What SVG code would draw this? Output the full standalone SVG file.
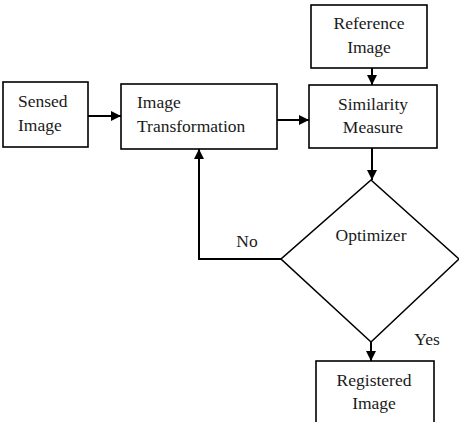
<svg xmlns="http://www.w3.org/2000/svg" width="459" height="422" viewBox="0 0 459 422">
<defs>
<style>
.box{fill:#fff;stroke:#000;stroke-width:1.6}
.t{font-family:"Liberation Serif","Times New Roman",serif;font-size:17.5px;fill:#1a1a1a}
.c{text-anchor:middle}
.ln{fill:none;stroke:#000;stroke-width:2}
</style>
<marker id="ah" markerWidth="10" markerHeight="10" refX="10" refY="5" orient="auto" markerUnits="userSpaceOnUse">
<path d="M0,0 L10,5 L0,10 Z" fill="#000"/>
</marker>
</defs>
<rect width="459" height="422" fill="#fff"/>
<g id="connectors">
<line class="ln" x1="88" y1="116" x2="121" y2="116" marker-end="url(#ah)"/>
<line class="ln" x1="277" y1="120" x2="309" y2="120" marker-end="url(#ah)"/>
<line class="ln" x1="372" y1="68" x2="372" y2="85" marker-end="url(#ah)"/>
<line class="ln" x1="372" y1="148" x2="372" y2="180" marker-end="url(#ah)"/>
<line class="ln" x1="371" y1="342" x2="371" y2="361" marker-end="url(#ah)"/>
<polyline class="ln" points="281,259 199,259 199,149" marker-end="url(#ah)"/>
<text class="t c" x="247" y="247">No</text>
<text class="t c" x="427" y="345">Yes</text>
</g>
<g id="sensed">
<rect class="box" x="3" y="82" width="85" height="65"/>
<text class="t" x="18" y="107">Sensed</text>
<text class="t" x="18" y="131">Image</text>
</g>
<g id="transformation">
<rect class="box" x="121" y="84" width="156" height="65"/>
<text class="t" x="137" y="108">Image</text>
<text class="t" x="137" y="132">Transformation</text>
</g>
<g id="reference">
<rect class="box" x="311" y="5" width="116" height="63"/>
<text class="t c" x="369" y="29">Reference</text>
<text class="t c" x="369" y="53">Image</text>
</g>
<g id="similarity">
<rect class="box" x="309" y="85" width="128" height="63"/>
<text class="t c" x="373" y="110">Similarity</text>
<text class="t c" x="373" y="133">Measure</text>
</g>
<g id="optimizer">
<polygon class="box" points="371,180 459,259 371,342 281,259"/>
<text class="t c" x="371" y="241">Optimizer</text>
</g>
<g id="registered">
<rect class="box" x="316" y="361" width="118" height="70"/>
<text class="t c" x="374" y="386">Registered</text>
<text class="t c" x="374" y="409">Image</text>
</g>
</svg>
